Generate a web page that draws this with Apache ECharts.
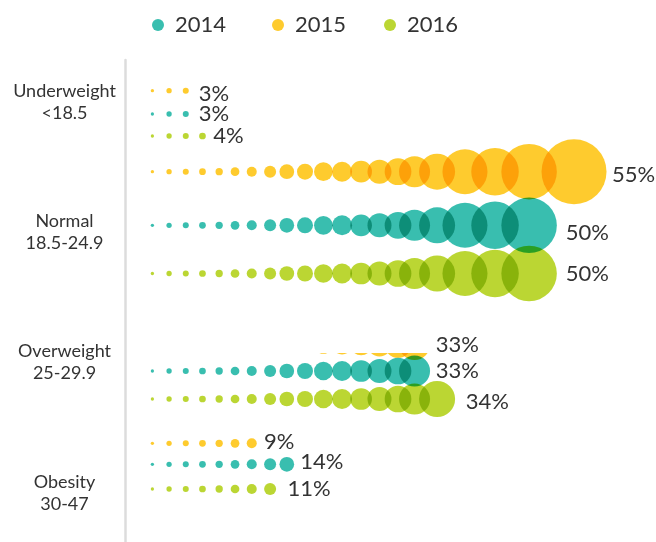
<!DOCTYPE html>
<html>
<head>
<meta charset="utf-8">
<script src="https://cdn.jsdelivr.net/npm/echarts@6/dist/echarts.min.js"></script>
<style>
  html, body { margin: 0; padding: 0; background: #fff; }
  #chart { width: 656px; height: 542px; }
</style>
</head>
<body>
<div id="chart"></div>
<script>
// BMI groups, top to bottom
const groups = ['Underweight\n<18.5', 'Normal\n18.5-24.9', 'Overweight\n25-29.9', 'Obesity\n30-47'];
const years = ['2014', '2015', '2016'];

// share of people in each group (%)
const share2014 = [3, 50, 33, 14];
const share2015 = [3, 55, 33, 9];
const share2016 = [4, 50, 34, 11];

// number of dots drawn in each row
const dots2014 = [3, 20, 16, 9];
const dots2015 = [3, 21, 16, 7];
const dots2016 = [4, 20, 17, 8];

// the dot track, shared by every row: step position and step weight
const stepPos = [0, 1, 2, 3, 4, 4.95, 5.95, 7.05, 8.05, 9.14, 10.24, 11.36, 12.5, 13.6, 14.71, 15.7, 17.05, 18.72, 20.52, 22.56, 25.25];
const stepWeight = [3.3, 5.3, 6, 6.7, 7.3, 8.7, 10, 12, 14.7, 16, 18.7, 20, 21.7, 24, 26.7, 31, 36, 45, 47.5, 55.5, 65];

// ---- layout ----
const FONT = 'Lato, sans-serif';
const colors = { '2014': '#39beaf', '2015': '#fecb2e', '2016': '#bbd633' };
const legendLeft = [152, 272, 384];
// row centre on the pixel-scaled y axis
const rowY = {
  '2015': [90.7, 171.7, 344.5, 443.3],
  '2014': [114, 225.3, 371, 464.3],
  '2016': [136, 273.5, 399, 489]
};
// small nudges of the % labels
const labelNudge = {
  '2015': [[3, 3], [-1.5, 3.6], [-1.3, 0], [0.3, -1.6]],
  '2014': [[3, 0], [2, 7.5], [-1.3, 0], [-1, -2]],
  '2016': [[0.3, 0], [2, 0], [3.7, 2.7], [4.3, 0]]
};
// this row is cut off at its top edge in the original
const clipRow = { year: '2015', group: 2, top: 353 };

const shares = { '2014': share2014, '2015': share2015, '2016': share2016 };
const counts = { '2014': dots2014, '2015': dots2015, '2016': dots2016 };

function rowDots(year, g) {
  let out = [];
  for (let i = 0; i < counts[year][g]; i++) {
    out.push([stepPos[i], rowY[year][g], stepWeight[i]]);
  }
  return out;
}

function yearData(year) {
  let data = [];
  groups.forEach((_, g) => {
    let pts = rowDots(year, g);
    let hidden = year === clipRow.year && g === clipRow.group;
    pts.forEach((p, i) => {
      let last = i === pts.length - 1;
      if (hidden && !last) return;
      let item = { value: p };
      if (hidden) item.itemStyle = { color: 'rgba(0,0,0,0)' };
      if (last) {
        item.label = { show: true, formatter: shares[year][g] + '%', offset: labelNudge[year][g] };
      }
      data.push(item);
    });
  });
  return data;
}

const xRange = { min: -1.64, max: 30.16 };
const hiddenAxis = { show: false };

let series = years.map(year => ({
  type: 'scatter',
  name: year,
  xAxisIndex: 0,
  yAxisIndex: 0,
  blendMode: 'multiply',
  symbol: 'circle',
  symbolSize: v => v[2],
  itemStyle: { color: colors[year], opacity: 1 },
  label: {
    show: false,
    position: 'right',
    distance: 7,
    fontSize: 22,
    color: '#333',
    fontFamily: FONT
  },
  emphasis: { disabled: true },
  data: yearData(year)
}));

series.push({
  type: 'custom',
  name: clipRow.year,
  xAxisIndex: 1,
  yAxisIndex: 1,
  clip: true,
  blendMode: 'multiply',
  data: rowDots(clipRow.year, clipRow.group),
  renderItem: (params, api) => {
    let c = api.coord([api.value(0), api.value(1)]);
    return {
      type: 'circle',
      shape: { cx: c[0], cy: c[1], r: api.value(2) / 2 },
      style: { fill: colors[clipRow.year] }
    };
  }
});

let option = {
  animation: false,
  backgroundColor: '#fff',
  textStyle: { fontFamily: FONT },
  legend: years.map((y, i) => ({
    data: [{ name: y, icon: 'path://M50,0A50,50,0,1,1,50,100A50,50,0,1,1,50,0Z' }],
    left: legendLeft[i],
    top: 14,
    padding: 0,
    itemWidth: 12,
    itemHeight: 16,
    selectedMode: false,
    textStyle: { fontFamily: FONT, fontSize: 22, color: '#333', padding: [0, 0, 0, 6] }
  })),
  grid: [
    { left: 125, right: 0, top: 60, bottom: 0 },
    { left: 125, right: 0, top: clipRow.top, bottom: 0 },
    { left: 125, width: 10, top: 102, bottom: 49 }
  ],
  xAxis: [
    Object.assign({ type: 'value', gridIndex: 0 }, xRange, hiddenAxis),
    Object.assign({ type: 'value', gridIndex: 1 }, xRange, hiddenAxis),
    { type: 'value', gridIndex: 2, show: false }
  ],
  yAxis: [
    {
      type: 'value',
      gridIndex: 0,
      min: 60,
      max: 542,
      inverse: true,
      axisLine: { show: true, onZero: false, lineStyle: { color: '#dcdcdc', width: 2.5 } },
      axisTick: { show: false },
      axisLabel: { show: false },
      splitLine: { show: false }
    },
    { type: 'value', gridIndex: 1, min: clipRow.top, max: 542, inverse: true, show: false },
    {
      type: 'category',
      gridIndex: 2,
      data: groups,
      inverse: true,
      boundaryGap: false,
      axisLine: { show: false },
      axisTick: { show: false },
      splitLine: { show: false },
      axisLabel: {
        align: 'center',
        margin: 60.5,
        fontSize: 18,
        lineHeight: 22,
        color: '#333',
        fontFamily: FONT
      }
    }
  ],
  series: series
};

let myChart = echarts.init(document.getElementById('chart'));
myChart.setOption(option);
window.addEventListener('resize', () => myChart.resize());
</script>
</body>
</html>
